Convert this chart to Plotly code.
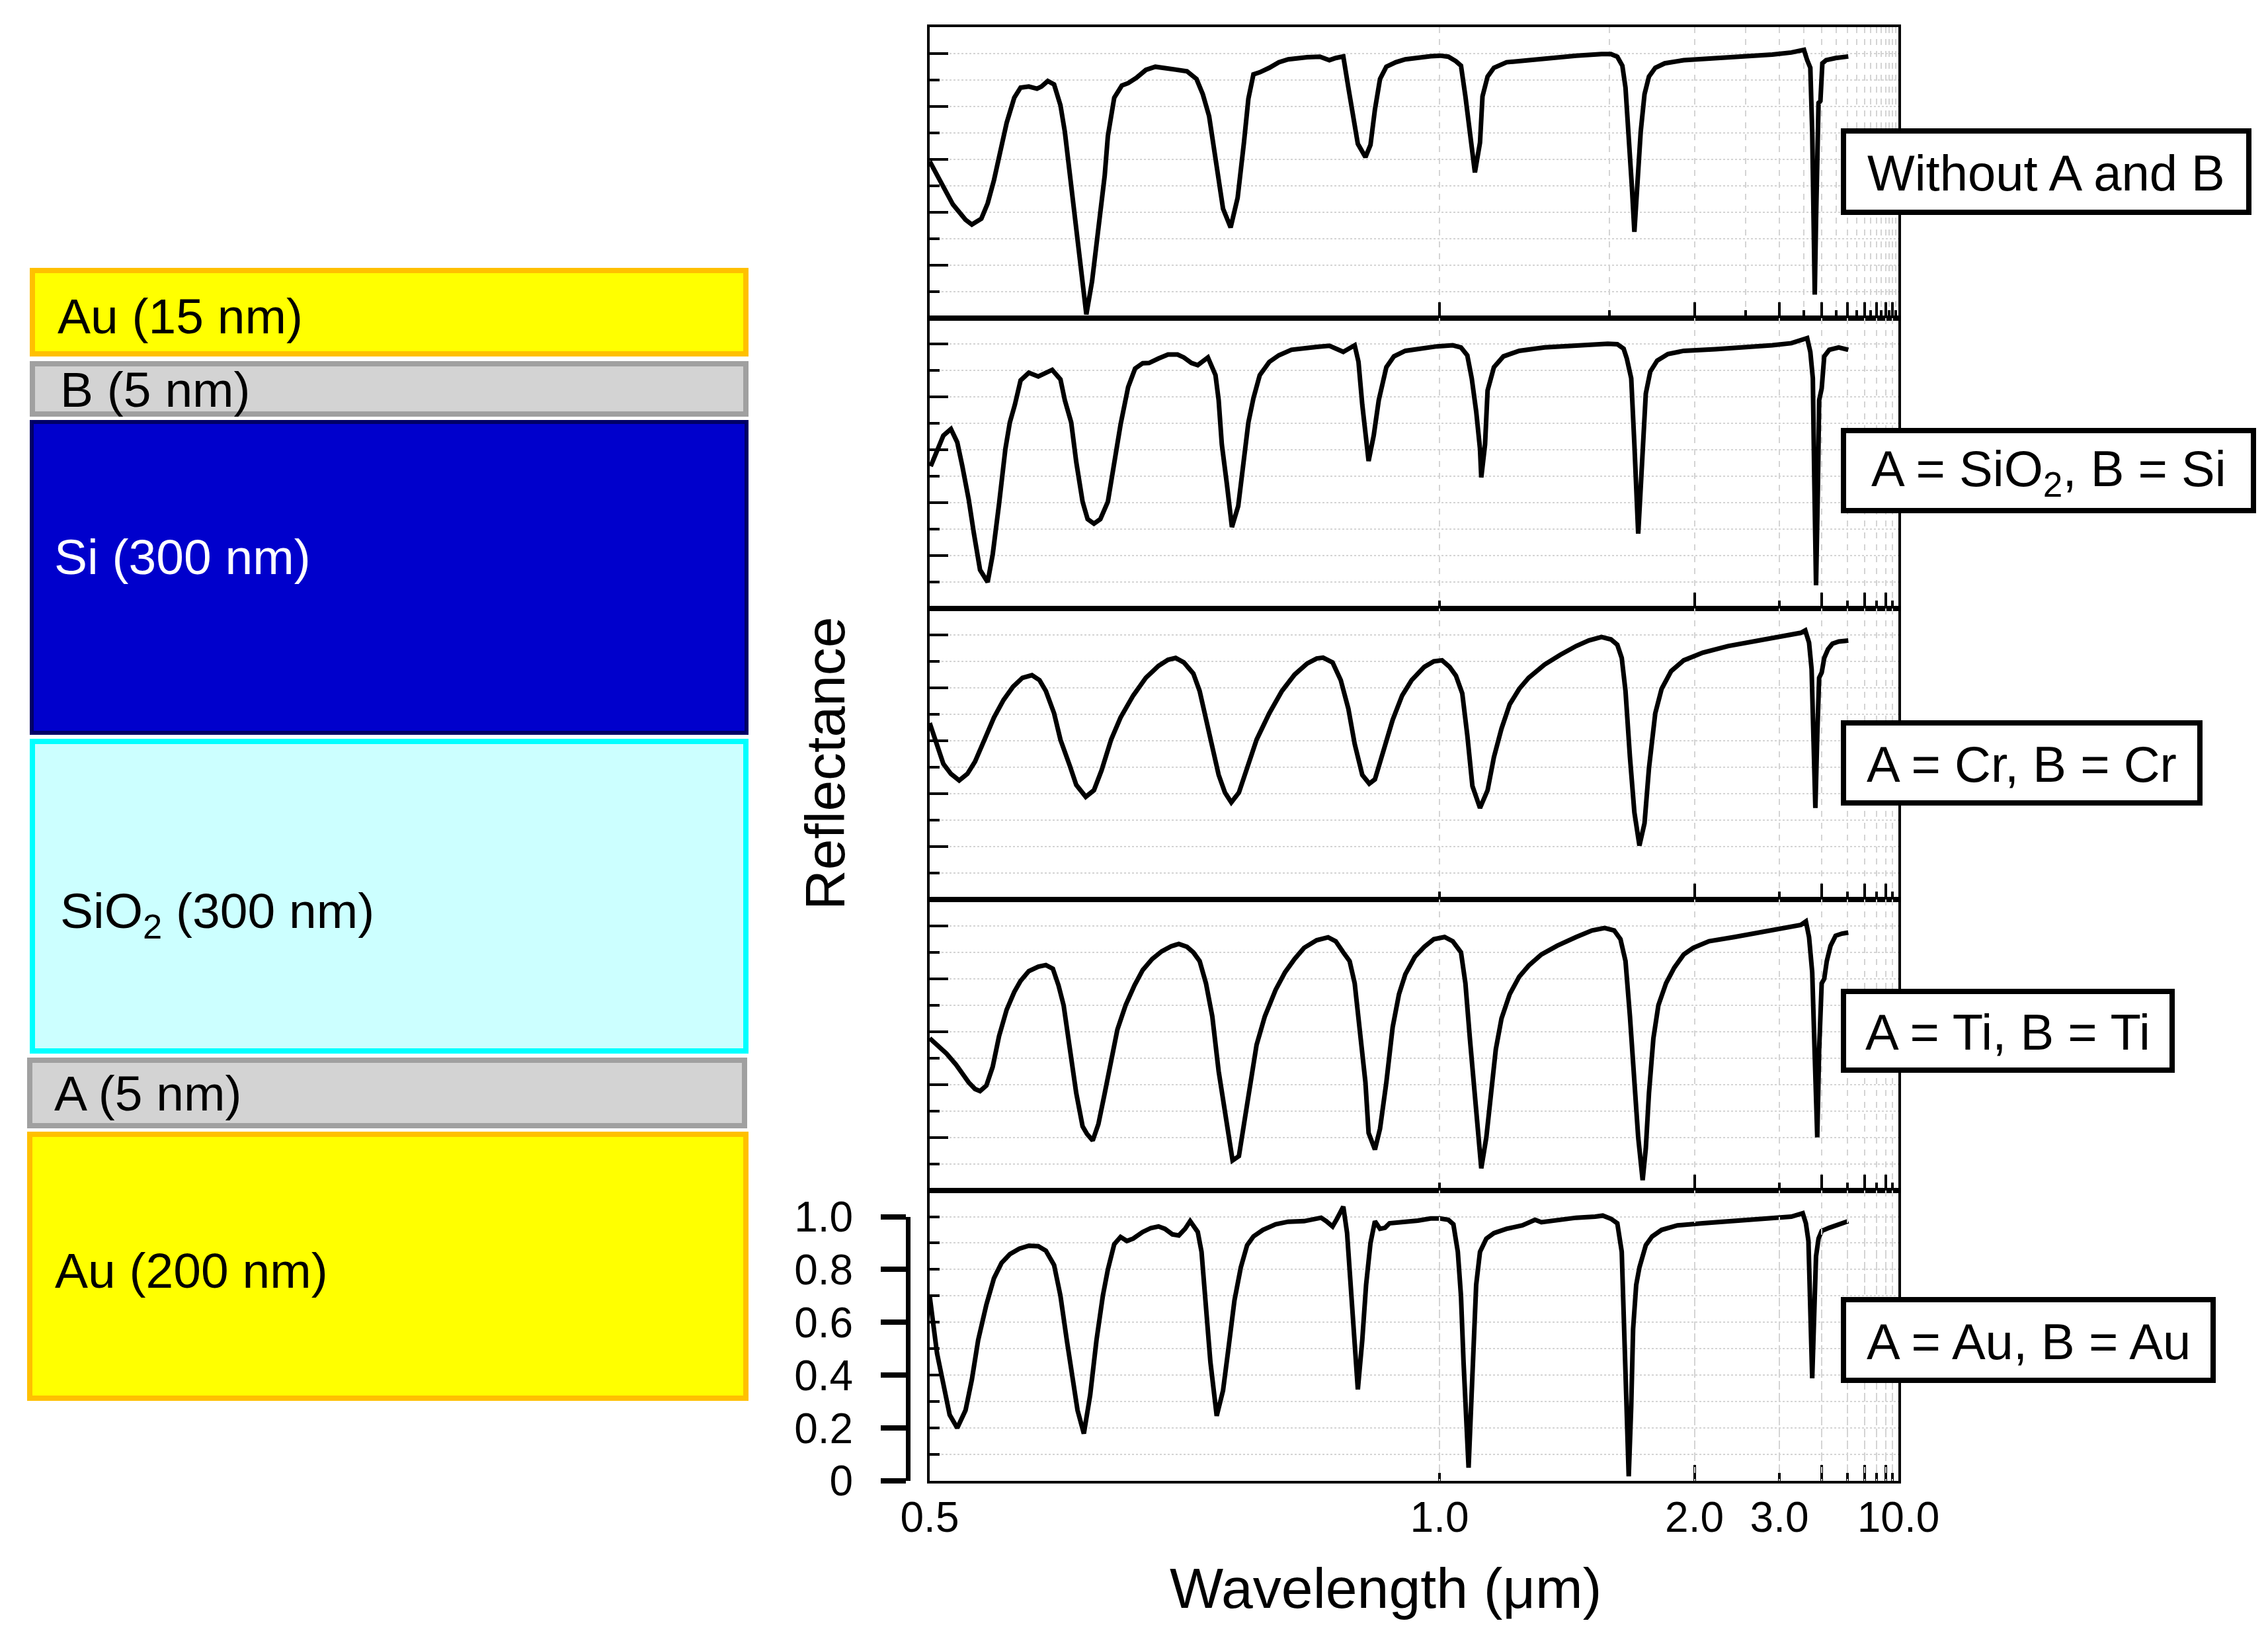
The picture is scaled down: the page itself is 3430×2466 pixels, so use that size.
import plotly.graph_objects as go

# ---------------- data ----------------
# x values: inverse wavelength 1/lambda (um^-1), i.e. the coordinate of the reciprocal
# wavelength axis used by the chart (0.5 um -> 2.0, 10 um -> 0.1); y values: reflectance.
inv_wl_none = [2.000, 1.9856, 1.9545, 1.9297, 1.9173, 1.8987, 1.8863, 1.8739, 1.8615, 1.8490,
               1.8341, 1.8217, 1.8056, 1.7895, 1.7808, 1.7684, 1.7560, 1.7435, 1.7349, 1.7249,
               1.7125, 1.7026, 1.6927, 1.6815, 1.6691, 1.6567, 1.6505, 1.6380, 1.6231, 1.6107,
               1.5946, 1.5760, 1.5574, 1.5412, 1.5201, 1.4953, 1.4767, 1.4643, 1.4519, 1.4394,
               1.4246, 1.4097, 1.3960, 1.3836, 1.3749, 1.3650, 1.3526, 1.3339, 1.3153, 1.2967,
               1.2781, 1.2595, 1.2346, 1.2160, 1.2036, 1.1887, 1.1788, 1.1689, 1.1602, 1.1453,
               1.1354, 1.1267, 1.1167, 1.1043, 1.0857, 1.0671, 1.0423, 1.0174, 0.9988, 0.9827,
               0.9678, 0.9579, 0.9492, 0.9405, 0.9306, 0.9206, 0.9157, 0.9057, 0.8933, 0.8685,
               0.8313, 0.7816, 0.7320, 0.6823, 0.6637, 0.6513, 0.6414, 0.6352, 0.6289, 0.6227,
               0.6178, 0.6116, 0.6054, 0.5979, 0.5892, 0.5768, 0.5582, 0.5210, 0.4589, 0.3968,
               0.3472, 0.3100, 0.2851, 0.2789, 0.2727, 0.2690, 0.2665, 0.2640, 0.2615, 0.2591,
               0.2566, 0.2529, 0.2491, 0.2417, 0.2231, 0.1982]
refl_none = [0.592, 0.538, 0.429, 0.371, 0.353, 0.375, 0.433, 0.521, 0.629, 0.738,
             0.833, 0.871, 0.875, 0.867, 0.875, 0.896, 0.883, 0.804, 0.704, 0.538,
             0.329, 0.163, 0.013, 0.138, 0.329, 0.538, 0.688, 0.833, 0.879, 0.888,
             0.908, 0.938, 0.950, 0.946, 0.939, 0.933, 0.904, 0.846, 0.763, 0.604,
             0.413, 0.342, 0.454, 0.663, 0.829, 0.921, 0.929, 0.946, 0.967, 0.978,
             0.983, 0.986, 0.988, 0.975, 0.983, 0.989, 0.871, 0.746, 0.658, 0.608,
             0.654, 0.788, 0.904, 0.950, 0.967, 0.978, 0.985, 0.990, 0.992, 0.988,
             0.971, 0.954, 0.838, 0.704, 0.550, 0.663, 0.838, 0.913, 0.946, 0.967,
             0.975, 0.985, 0.992, 0.998, 0.998, 0.988, 0.954, 0.871, 0.704, 0.496,
             0.325, 0.496, 0.704, 0.846, 0.913, 0.946, 0.963, 0.975, 0.981, 0.988,
             0.996, 1.004, 1.014, 0.975, 0.946, 0.704, 0.371, 0.088, 0.371, 0.704,
             0.813, 0.821, 0.963, 0.975, 0.983, 0.989]

inv_wl_sio2_si = [1.998, 1.9732, 1.9583, 1.9459, 1.9359, 1.9235, 1.9136, 1.9012, 1.8863, 1.8764,
                  1.8639, 1.8515, 1.8428, 1.8329, 1.8217, 1.8056, 1.7870, 1.7597, 1.7435, 1.7349,
                  1.7224, 1.7125, 1.7001, 1.6902, 1.6778, 1.6653, 1.6505, 1.6380, 1.6256, 1.6107,
                  1.5971, 1.5822, 1.5698, 1.5512, 1.5325, 1.5139, 1.5015, 1.4866, 1.4742, 1.4543,
                  1.4394, 1.4332, 1.4270, 1.4171, 1.4072, 1.3948, 1.3836, 1.3749, 1.3650, 1.3526,
                  1.3339, 1.3153, 1.2905, 1.2657, 1.2409, 1.2160, 1.2036, 1.1887, 1.1664, 1.1589,
                  1.1515, 1.1453, 1.1391, 1.1291, 1.1192, 1.1043, 1.0894, 1.0671, 1.0423, 1.0050,
                  0.9740, 0.9579, 0.9455, 0.9368, 0.9281, 0.9206, 0.9181, 0.9107, 0.9057, 0.8933,
                  0.8747, 0.8437, 0.7940, 0.7320, 0.6699, 0.6513, 0.6389, 0.6327, 0.6240, 0.6178,
                  0.6128, 0.6103, 0.6066, 0.6004, 0.5954, 0.5867, 0.5731, 0.5520, 0.5210, 0.4589,
                  0.3968, 0.3472, 0.3100, 0.2789, 0.2727, 0.2678, 0.2653, 0.2615, 0.2579, 0.2554,
                  0.2504, 0.2454, 0.2355, 0.2169, 0.1982]
refl_sio2_si = [0.538, 0.654, 0.679, 0.629, 0.538, 0.413, 0.288, 0.146, 0.100, 0.204,
                0.396, 0.604, 0.704, 0.771, 0.863, 0.892, 0.878, 0.903, 0.867, 0.788,
                0.704, 0.554, 0.404, 0.338, 0.321, 0.338, 0.404, 0.546, 0.696, 0.838,
                0.908, 0.928, 0.929, 0.946, 0.961, 0.961, 0.950, 0.929, 0.921, 0.950,
                0.883, 0.788, 0.621, 0.471, 0.308, 0.388, 0.579, 0.704, 0.796, 0.883,
                0.933, 0.958, 0.979, 0.986, 0.990, 0.994, 0.983, 0.971, 0.996, 0.933,
                0.771, 0.663, 0.558, 0.654, 0.788, 0.913, 0.954, 0.975, 0.983, 0.992,
                0.996, 0.988, 0.958, 0.871, 0.746, 0.604, 0.496, 0.621, 0.825, 0.913,
                0.954, 0.975, 0.988, 0.996, 1.002, 1.000, 0.983, 0.946, 0.871, 0.621,
                0.413, 0.283, 0.413, 0.663, 0.813, 0.896, 0.938, 0.963, 0.975, 0.981,
                0.988, 0.996, 1.004, 1.023, 0.971, 0.871, 0.538, 0.088, 0.454, 0.788,
                0.833, 0.954, 0.979, 0.988, 0.979]

inv_wl_cr = [2.0000, 1.9856, 1.9732, 1.9583, 1.9421, 1.9260, 1.9111, 1.8925, 1.8739, 1.8552,
             1.8366, 1.8180, 1.7994, 1.7845, 1.7721, 1.7560, 1.7435, 1.7249, 1.7125, 1.6939,
             1.6778, 1.6629, 1.6442, 1.6256, 1.6008, 1.5760, 1.5512, 1.5325, 1.5176, 1.5015,
             1.4829, 1.4705, 1.4581, 1.4457, 1.4332, 1.4208, 1.4084, 1.3935, 1.3774, 1.3588,
             1.3339, 1.3091, 1.2843, 1.2595, 1.2409, 1.2284, 1.2098, 1.1937, 1.1788, 1.1664,
             1.1515, 1.1378, 1.1267, 1.1105, 1.0919, 1.0733, 1.0547, 1.0299, 1.0112, 0.9951,
             0.9802, 0.9678, 0.9554, 0.9455, 0.9355, 0.9206, 0.9057, 0.8933, 0.8784, 0.8623,
             0.8437, 0.8251, 0.7940, 0.7630, 0.7320, 0.7071, 0.6823, 0.6637, 0.6513, 0.6426,
             0.6352, 0.6265, 0.6178, 0.6079, 0.5979, 0.5892, 0.5768, 0.5644, 0.5458, 0.5210,
             0.4837, 0.4341, 0.3844, 0.3348, 0.2913, 0.2826, 0.2752, 0.2702, 0.2665, 0.2628,
             0.2591, 0.2554, 0.2504, 0.2454, 0.2380, 0.2293, 0.2169, 0.1982]
refl_cr = [0.667, 0.579, 0.513, 0.475, 0.450, 0.475, 0.521, 0.604, 0.688, 0.754,
           0.804, 0.838, 0.848, 0.829, 0.788, 0.704, 0.604, 0.504, 0.433, 0.388,
           0.413, 0.488, 0.604, 0.688, 0.771, 0.838, 0.883, 0.906, 0.913, 0.896,
           0.854, 0.788, 0.679, 0.571, 0.471, 0.404, 0.367, 0.404, 0.496, 0.604,
           0.704, 0.788, 0.850, 0.892, 0.911, 0.914, 0.896, 0.829, 0.721, 0.588,
           0.471, 0.438, 0.454, 0.554, 0.679, 0.771, 0.829, 0.879, 0.900, 0.904,
           0.879, 0.846, 0.779, 0.621, 0.429, 0.346, 0.413, 0.538, 0.646, 0.738,
           0.796, 0.838, 0.888, 0.925, 0.958, 0.979, 0.992, 0.983, 0.963, 0.913,
           0.788, 0.538, 0.329, 0.204, 0.288, 0.496, 0.704, 0.796, 0.863, 0.904,
           0.933, 0.958, 0.975, 0.992, 1.008, 1.017, 0.971, 0.871, 0.621, 0.346,
           0.621, 0.838, 0.858, 0.913, 0.946, 0.967, 0.975, 0.979]

inv_wl_ti = [2.0000, 1.9856, 1.9670, 1.9483, 1.9359, 1.9235, 1.9111, 1.9012, 1.8888, 1.8764,
             1.8639, 1.8490, 1.8341, 1.8217, 1.8056, 1.7870, 1.7721, 1.7584, 1.7473, 1.7373,
             1.7249, 1.7125, 1.7001, 1.6914, 1.6802, 1.6691, 1.6567, 1.6442, 1.6318, 1.6157,
             1.5983, 1.5822, 1.5636, 1.5449, 1.5263, 1.5114, 1.4953, 1.4829, 1.4705, 1.4581,
             1.4457, 1.4332, 1.4208, 1.4146, 1.4059, 1.3935, 1.3836, 1.3712, 1.3588, 1.3426,
             1.3215, 1.3029, 1.2843, 1.2657, 1.2409, 1.2185, 1.2036, 1.1887, 1.1763, 1.1664,
             1.1565, 1.1453, 1.1391, 1.1267, 1.1167, 1.1043, 1.0919, 1.0795, 1.0671, 1.0485,
             1.0299, 1.0112, 0.9901, 0.9740, 0.9579, 0.9492, 0.9405, 0.9306, 0.9243, 0.9181,
             0.9082, 0.8995, 0.8896, 0.8784, 0.8623, 0.8437, 0.8251, 0.8002, 0.7692, 0.7320,
             0.7009, 0.6761, 0.6575, 0.6451, 0.6352, 0.6265, 0.6178, 0.6103, 0.6016, 0.5954,
             0.5892, 0.5805, 0.5707, 0.5557, 0.5396, 0.5210, 0.5023, 0.4713, 0.4217, 0.3720,
             0.3224, 0.2913, 0.2814, 0.2752, 0.2690, 0.2640, 0.2591, 0.2554, 0.2504, 0.2454,
             0.2404, 0.2330, 0.2231, 0.2107, 0.1982]
refl_ti = [0.575, 0.550, 0.517, 0.475, 0.442, 0.408, 0.383, 0.375, 0.396, 0.467,
           0.583, 0.683, 0.750, 0.792, 0.829, 0.846, 0.852, 0.838, 0.775, 0.700,
           0.533, 0.367, 0.242, 0.213, 0.188, 0.250, 0.367, 0.500, 0.608, 0.700,
           0.775, 0.833, 0.875, 0.904, 0.923, 0.932, 0.921, 0.900, 0.867, 0.783,
           0.658, 0.450, 0.283, 0.200, 0.113, 0.129, 0.242, 0.408, 0.550, 0.658,
           0.758, 0.825, 0.875, 0.917, 0.946, 0.957, 0.942, 0.900, 0.867, 0.783,
           0.617, 0.408, 0.217, 0.154, 0.233, 0.408, 0.617, 0.742, 0.817, 0.883,
           0.921, 0.950, 0.958, 0.942, 0.900, 0.783, 0.575, 0.367, 0.200, 0.083,
           0.200, 0.367, 0.533, 0.650, 0.742, 0.808, 0.850, 0.892, 0.925, 0.958,
           0.983, 0.992, 0.983, 0.950, 0.867, 0.658, 0.408, 0.200, 0.038, 0.158,
           0.367, 0.575, 0.700, 0.783, 0.842, 0.892, 0.917, 0.942, 0.958, 0.975,
           0.992, 1.004, 1.017, 0.958, 0.825, 0.533, 0.200, 0.533, 0.783, 0.800,
           0.867, 0.925, 0.963, 0.971, 0.975]

inv_wl_au = [2.0000, 1.9856, 1.9732, 1.9608, 1.9459, 1.9297, 1.9173, 1.9049, 1.8888, 1.8739,
             1.8590, 1.8428, 1.8242, 1.8056, 1.7870, 1.7721, 1.7560, 1.7435, 1.7311, 1.7187,
             1.7100, 1.6976, 1.6852, 1.6728, 1.6604, 1.6505, 1.6380, 1.6256, 1.6132, 1.6008,
             1.5822, 1.5661, 1.5512, 1.5387, 1.5238, 1.5114, 1.4990, 1.4891, 1.4742, 1.4668,
             1.4581, 1.4494, 1.4370, 1.4246, 1.4146, 1.4022, 1.3898, 1.3774, 1.3650, 1.3464,
             1.3215, 1.2967, 1.2657, 1.2471, 1.2322, 1.2222, 1.2098, 1.2011, 1.1887, 1.1813,
             1.1763, 1.1689, 1.1602, 1.1515, 1.1440, 1.1354, 1.1267, 1.1167, 1.1068, 1.0981,
             1.0671, 1.0423, 1.0174, 0.9988, 0.9827, 0.9728, 0.9641, 0.9579, 0.9529, 0.9467,
             0.9430, 0.9380, 0.9330, 0.9281, 0.9206, 0.9082, 0.8933, 0.8685, 0.8375, 0.8126,
             0.8002, 0.7692, 0.7320, 0.6947, 0.6798, 0.6637, 0.6513, 0.6426, 0.6364, 0.6327,
             0.6289, 0.6240, 0.6203, 0.6142, 0.6079, 0.5954, 0.5831, 0.5644, 0.5334, 0.4837,
             0.4217, 0.3596, 0.3100, 0.2876, 0.2814, 0.2764, 0.2727, 0.2690, 0.2653, 0.2615,
             0.2566, 0.2504, 0.2355, 0.2169, 0.1982]
refl_au = [0.700, 0.483, 0.367, 0.250, 0.200, 0.267, 0.383, 0.533, 0.667, 0.767,
           0.825, 0.858, 0.879, 0.890, 0.888, 0.871, 0.817, 0.700, 0.533, 0.383,
           0.267, 0.179, 0.325, 0.533, 0.700, 0.800, 0.896, 0.923, 0.908, 0.917,
           0.942, 0.957, 0.963, 0.954, 0.933, 0.929, 0.954, 0.983, 0.942, 0.867,
           0.658, 0.450, 0.246, 0.342, 0.492, 0.683, 0.808, 0.892, 0.925, 0.950,
           0.971, 0.981, 0.983, 0.988, 0.996, 0.983, 0.963, 0.992, 1.038, 0.938,
           0.783, 0.575, 0.346, 0.533, 0.742, 0.900, 0.983, 0.954, 0.958, 0.975,
           0.979, 0.985, 0.993, 0.993, 0.988, 0.971, 0.867, 0.700, 0.450, 0.200,
           0.050, 0.283, 0.533, 0.742, 0.867, 0.917, 0.938, 0.954, 0.967, 0.988,
           0.979, 0.988, 0.996, 1.000, 1.004, 0.992, 0.975, 0.867, 0.533, 0.242,
           0.017, 0.283, 0.575, 0.742, 0.808, 0.892, 0.925, 0.950, 0.967, 0.975,
           0.983, 0.992, 1.000, 1.013, 0.975, 0.908, 0.700, 0.388, 0.617, 0.850,
           0.917, 0.946, 0.958, 0.971, 0.983]

panel_labels = ["Without A and B", "A = SiO<sub>2</sub>, B = Si", "A = Cr, B = Cr",
                "A = Ti, B = Ti", "A = Au, B = Au"]

x_label_wavelengths = [0.5, 1.0, 2.0, 3.0, 10.0]
x_label_text = ["0.5", "1.0", "2.0", "3.0", "10.0"]
x_major_wl_top = [1, 2, 3, 4, 5, 6, 7, 8, 9, 10]
x_minor_wl_top = [1.5, 2.5, 3.5, 4.5, 5.5, 6.5, 7.5, 8.5, 9.5]
x_major_wl = [2, 4, 6, 8, 10]
x_minor_wl = [1, 3, 5, 7, 9]
y_major = [0.2, 0.4, 0.6, 0.8, 1.0]
y_minor = [0.1, 0.3, 0.5, 0.7, 0.9]
y_label_vals = [0, 0.2, 0.4, 0.6, 0.8, 1.0]
y_label_text = ["0", "0.2", "0.4", "0.6", "0.8", "1.0"]

layer_labels = ["Au (15 nm)", "B (5 nm)", "Si (300 nm)", "SiO<sub>2</sub> (300 nm)",
                "A (5 nm)", "Au (200 nm)"]
layer_fill = ["#FFFF00", "#D3D3D3", "#0000CC", "#CCFFFF", "#D3D3D3", "#FFFF00"]
layer_edge = ["#FFC000", "#A0A0A0", "#000066", "#00FFFF", "#A0A0A0", "#FFC000"]
layer_text_color = ["black", "black", "white", "black", "black", "black"]

# ---------------- geometry (pixels of the 3430 x 2466 canvas) ----------------
W, H = 3430, 2466
PLOT_L, PLOT_R = 1398, 2863
PANEL_EDGES = [33, 472.5, 912, 1352, 1791.6, 2231]
FONT = "Liberation Sans, Arial, Helvetica, sans-serif"
GRID = "#D4D4D4"


def fx(p):
    return p / W


def fy(p):
    return 1 - p / H


series = [(inv_wl_none, refl_none), (inv_wl_sio2_si, refl_sio2_si), (inv_wl_cr, refl_cr),
          (inv_wl_ti, refl_ti), (inv_wl_au, refl_au)]

fig = go.Figure()
layout = {}
for i, (xs, ys) in enumerate(series):
    sfx = "" if i == 0 else str(i + 1)
    xid, yid = "x" + sfx, "y" + sfx
    top, bot = PANEL_EDGES[i], PANEL_EDGES[i + 1]
    fig.add_trace(go.Scatter(x=xs, y=ys, mode="lines", line=dict(color="black", width=7),
                             xaxis=xid, yaxis=yid, showlegend=False, hoverinfo="skip"))
    if i == 0:
        xmaj, xmin = x_major_wl_top, x_minor_wl_top
    else:
        xmaj, xmin = x_major_wl, x_minor_wl
    layout["xaxis" + sfx] = dict(
        domain=[fx(PLOT_L), fx(PLOT_R)], anchor=yid, range=[1 / 0.5, 1 / 10.0],
        tickmode="array", tickvals=[1 / w for w in xmaj], showticklabels=False,
        ticks="inside", ticklen=24, tickwidth=4, tickcolor="black",
        showgrid=True, gridcolor=GRID, griddash="dash", gridwidth=2,
        minor=dict(tickmode="array", tickvals=[1 / w for w in xmin], ticks="inside",
                   ticklen=12, tickwidth=4, tickcolor="black", showgrid=True,
                   gridcolor=GRID, griddash="dash", gridwidth=2),
        showline=True, linecolor="black", linewidth=4, mirror=True, zeroline=False)
    layout["yaxis" + sfx] = dict(
        domain=[fy(bot), fy(top)], anchor=xid, range=[0, 1.1],
        tickmode="array", tickvals=y_major, showticklabels=False,
        ticks="inside", ticklen=(15 if i == 4 else 28), tickwidth=4, tickcolor="black",
        showgrid=True, gridcolor=GRID, griddash="dot", gridwidth=2,
        minor=dict(tickmode="array", tickvals=y_minor, ticks="inside", ticklen=15,
                   tickwidth=4, tickcolor="black", showgrid=True, gridcolor=GRID,
                   griddash="dot", gridwidth=2),
        showline=True, linecolor="black", linewidth=4, mirror=True, zeroline=False)

# wavelength labels under the bottom panel
fig.add_trace(go.Scatter(x=[], y=[], xaxis="x6", yaxis="y5", showlegend=False, hoverinfo="skip"))
layout["xaxis6"] = dict(
    overlaying="x5", anchor="y5", side="bottom", range=[1 / 0.5, 1 / 10.0],
    tickmode="array", tickvals=[1 / w for w in x_label_wavelengths], ticktext=x_label_text,
    ticks="", showgrid=False, showline=False, zeroline=False, ticklabelstandoff=12,
    tickfont=dict(family=FONT, size=64, color="black"))

# offset reflectance axis of the bottom panel
panel_h = PANEL_EDGES[5] - PANEL_EDGES[4]
fig.add_trace(go.Scatter(x=[], y=[], xaxis="x5", yaxis="y6", showlegend=False, hoverinfo="skip"))
layout["yaxis6"] = dict(
    domain=[fy(PANEL_EDGES[5]), fy(PANEL_EDGES[5] - panel_h / 1.1)], anchor="free",
    position=fx(1365), side="left", range=[0, 1.0],
    tickmode="array", tickvals=y_label_vals, ticktext=y_label_text,
    ticks="outside", ticklen=38, tickwidth=8, tickcolor="black",
    showline=True, linewidth=7, linecolor="black", showgrid=False, zeroline=False,
    ticklabelstandoff=29, tickfont=dict(family=FONT, size=64, color="black"))

shapes = []
annotations = []

# layer stack diagram
layer_rects = [(37, 397, 1124, 531), (37, 538, 1124, 622), (37, 627, 1124, 1103),
               (37, 1109, 1124, 1585), (33, 1591, 1122, 1698), (33, 1703, 1124, 2110)]
layer_widths = [8, 8, 6, 8, 8, 8]
layer_text_pos = [(77, 470), (81, 581), (72, 834), (81, 1374), (72, 1645), (73, 1913)]
for k in range(len(layer_labels)):
    x0, y0, x1, y1 = layer_rects[k]
    lw = layer_widths[k]
    shapes.append(dict(type="rect", xref="paper", yref="paper",
                       x0=fx(x0 + lw / 2), x1=fx(x1 - lw / 2),
                       y0=fy(y1 - lw / 2), y1=fy(y0 + lw / 2),
                       fillcolor=layer_fill[k], line=dict(color=layer_edge[k], width=lw),
                       layer="below"))
    tx, ty = layer_text_pos[k]
    annotations.append(dict(x=fx(tx), y=fy(ty), xref="paper", yref="paper",
                            text=layer_labels[k], showarrow=False, xanchor="left",
                            yanchor="middle",
                            font=dict(family=FONT, size=75, color=layer_text_color[k])))

# panel label boxes
box_rects = [(2776, 186, 3397, 317), (2776, 639, 3404, 768), (2776, 1081, 3323, 1210),
             (2776, 1487, 3281, 1614), (2776, 1953, 3343, 2083)]
for k, lab in enumerate(panel_labels):
    x0, y0, x1, y1 = box_rects[k]
    shapes.append(dict(type="rect", xref="paper", yref="paper",
                       x0=fx(x0 + 4), x1=fx(x1 - 4), y0=fy(y1 - 4), y1=fy(y0 + 4),
                       fillcolor="white", line=dict(color="black", width=8), layer="above"))
    annotations.append(dict(x=fx((x0 + x1) / 2), y=fy((y0 + y1) / 2 + 2), xref="paper",
                            yref="paper", text=lab, showarrow=False, xanchor="center",
                            yanchor="middle", font=dict(family=FONT, size=76, color="black")))

# axis titles
annotations.append(dict(x=fx(1240), y=fy(1146), xref="paper", yref="paper",
                        text="Reflectance", textangle=-90, showarrow=False,
                        xanchor="center", yanchor="middle",
                        font=dict(family=FONT, size=84, color="black")))
annotations.append(dict(x=fx(2087), y=fy(2393), xref="paper", yref="paper",
                        text="Wavelength (\u03bcm)", showarrow=False,
                        xanchor="center", yanchor="middle",
                        font=dict(family=FONT, size=86, color="black")))

fig.update_layout(
    width=W, height=H,
    margin=dict(l=0, r=0, t=0, b=0, pad=0, autoexpand=False),
    paper_bgcolor="white", plot_bgcolor="rgba(0,0,0,0)", showlegend=False,
    font=dict(family=FONT, color="black"),
    shapes=shapes, annotations=annotations, **layout)

fig.write_html("out.html")
